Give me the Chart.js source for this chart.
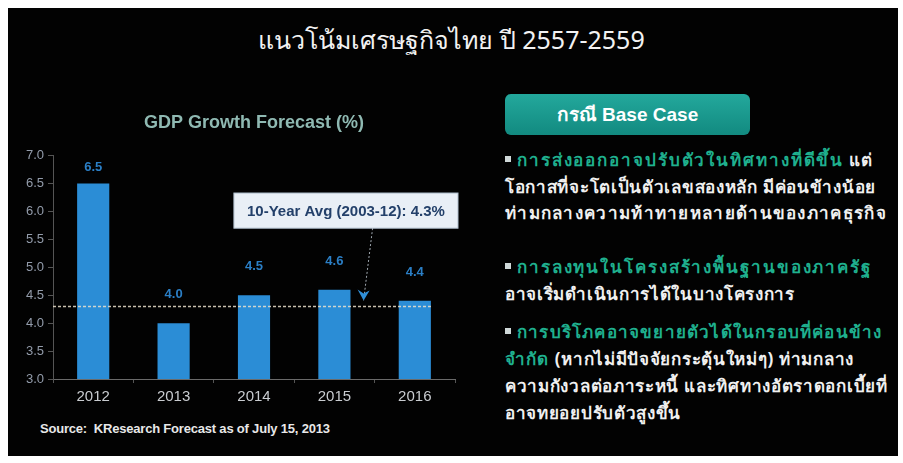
<!DOCTYPE html>
<html>
<head>
<meta charset="utf-8">
<script src="https://cdn.jsdelivr.net/npm/chart.js@4"></script>
<style>
  html, body { margin: 0; padding: 0; background: #fff; }
  body { width: 903px; height: 463px; position: relative; overflow: hidden; font-family: Arial, "Liberation Sans", sans-serif; }
  #panel { position: absolute; left: 8px; top: 8px; width: 890px; height: 448px; background: #020202; }
  #mainTitle { position: absolute; left: 0; top: 20px; width: 903px; text-align: center; color: #f2f2f2; font-size: 25px; font-family: "Liberation Sans Narrow", "Noto Sans", sans-serif; letter-spacing: 0px; }
  #chartBox { position: absolute; left: 8px; top: 100px; width: 460px; height: 313px; }
  #source { position: absolute; left: 40px; top: 421px; color: #e8e8e8; font-size: 13px; font-weight: bold; letter-spacing: -0.2px; }
  #caseBtn { position: absolute; left: 505px; top: 94px; width: 245px; height: 41px; border-radius: 6px; background: linear-gradient(#23a89c, #128a80); color: #fff; font-weight: bold; font-size: 19px; text-align: center; line-height: 41px; }
  .para { position: absolute; left: 505px; width: 395px; color: #f0f0f0; font-weight: bold; font-size: 17px; letter-spacing: 0.7px; line-height: 26.5px; font-family: "Noto Sans", "DejaVu Sans", sans-serif; white-space: nowrap; }
  .hl { color: #1fb08e; letter-spacing: 1.9px; }
  .wide { letter-spacing: 1.3px; }
  .sq { display: inline-block; width: 6px; height: 6px; background: #cfd8d8; margin-right: 6px; vertical-align: middle; position: relative; top: -2px; letter-spacing: 0; }
</style>
</head>
<body>
<div id="panel"></div>
<div id="mainTitle">แนวโน้มเศรษฐกิจไทย ปี 2557-2559</div>
<div id="chartBox"><canvas id="gdpChart"></canvas></div>
<div id="source">Source:&nbsp; KResearch Forecast as of July 15, 2013</div>
<div id="caseBtn">กรณี Base Case</div>
<div class="para" style="top:147px"><span class="sq"></span><span class="hl">การส่งออกอาจปรับตัวในทิศทางที่ดีขึ้น</span> แต่<br>โอกาสที่จะโตเป็นตัวเลขสองหลัก มีค่อนข้างน้อย<br><span class="wide">ท่ามกลางความท้าทายหลายด้านของภาคธุรกิจ</span></div>
<div class="para" style="top:254px"><span class="sq"></span><span class="hl">การลงทุนในโครงสร้างพื้นฐานของภาครัฐ</span><br>อาจเริ่มดำเนินการได้ในบางโครงการ</div>
<div class="para" style="top:318px; line-height:27px"><span class="sq"></span><span class="hl" style="letter-spacing:1.2px">การบริโภคอาจขยายตัวได้ในกรอบที่ค่อนข้าง<br>จำกัด</span> (หากไม่มีปัจจัยกระตุ้นใหม่ๆ) ท่ามกลาง<br>ความกังวลต่อภาระหนี้ และทิศทางอัตราดอกเบี้ยที่<br>อาจทยอยปรับตัวสูงขึ้น</div>

<script>
// Chart data
const years = ['2012', '2013', '2014', '2015', '2016'];
const gdpGrowth = [6.5, 4.0, 4.5, 4.6, 4.4];
const yTicks = [3.0, 3.5, 4.0, 4.5, 5.0, 5.5, 6.0, 6.5, 7.0];
const tenYearAvg = 4.3;
const avgLabel = '10-Year Avg (2003-12): 4.3%';

// value labels above the bars
const valueLabels = {
    id: 'valueLabels',
    afterDatasetsDraw(chart) {
        const ctx = chart.ctx;
        const meta = chart.getDatasetMeta(0);
        ctx.save();
        ctx.font = 'bold 13px Arial';
        ctx.fillStyle = '#2b7fc6';
        ctx.textAlign = 'center';
        ctx.textBaseline = 'bottom';
        meta.data.forEach((bar, i) => {
            const off = i === 0 ? 10 : 22;
            ctx.fillText(gdpGrowth[i].toFixed(1), bar.x, bar.y - off);
        });
        ctx.restore();
    }
};

// dashed average line + callout box
const avgLine = {
    id: 'avgLine',
    afterDatasetsDraw(chart) {
        const ctx = chart.ctx;
        const x = chart.scales.x, y = chart.scales.y;
        const meta = chart.getDatasetMeta(0);
        const last = meta.data[meta.data.length - 1];
        const ly = y.getPixelForValue(tenYearAvg);
        ctx.save();
        ctx.strokeStyle = 'rgba(235,225,205,0.85)';
        ctx.lineWidth = 1.5;
        ctx.setLineDash([3, 2]);
        ctx.beginPath();
        ctx.moveTo(chart.chartArea.left, ly);
        ctx.lineTo(last.x + last.width / 2, ly);
        ctx.stroke();

        // callout box
        const bx1 = x.getPixelForValue(1.75), bx2 = chart.chartArea.right + 3;
        const by1 = y.getPixelForValue(6.33), by2 = y.getPixelForValue(5.7);
        ctx.setLineDash([]);
        ctx.fillStyle = '#e9eff6';
        ctx.strokeStyle = '#aebdcc';
        ctx.lineWidth = 1;
        ctx.fillRect(bx1, by1, bx2 - bx1, by2 - by1);
        ctx.strokeRect(bx1, by1, bx2 - bx1, by2 - by1);
        ctx.font = 'bold 15px Arial';
        ctx.fillStyle = '#23406a';
        ctx.textAlign = 'center';
        ctx.textBaseline = 'middle';
        ctx.fillText(avgLabel, (bx1 + bx2) / 2, (by1 + by2) / 2 + 1);

        // arrow from box to line
        const tipX = (x.getPixelForValue(3) + x.getPixelForValue(4)) / 2 - 11;
        const tipY = ly - 6;
        const startX = tipX + 9;
        ctx.strokeStyle = 'rgba(200,210,220,0.8)';
        ctx.setLineDash([2, 2]);
        ctx.beginPath();
        ctx.moveTo(startX, by2);
        ctx.lineTo(tipX, tipY);
        ctx.stroke();
        ctx.setLineDash([]);
        ctx.fillStyle = '#2f8fd8';
        ctx.beginPath();
        ctx.moveTo(tipX, tipY);
        ctx.lineTo(tipX - 6, tipY - 11);
        ctx.lineTo(tipX, tipY - 7);
        ctx.lineTo(tipX + 6, tipY - 10);
        ctx.closePath();
        ctx.fill();
        ctx.restore();
    }
};

function createGdpChart() {
    const ctx = document.getElementById('gdpChart').getContext('2d');
    new Chart(ctx, {
        type: 'bar',
        data: {
            labels: years,
            datasets: [{
                data: gdpGrowth,
                backgroundColor: '#2b8dd6',
                barPercentage: 0.4,
                categoryPercentage: 1.0
            }]
        },
        options: {
            responsive: false,
            animation: false,
            layout: { padding: { left: 0, right: 13, top: 0, bottom: 2 } },
            plugins: {
                legend: { display: false },
                tooltip: { enabled: false },
                title: {
                    display: true,
                    fullSize: false,
                    text: 'GDP Growth Forecast (%)',
                    color: '#8fb9b2',
                    font: { family: 'Arial', size: 18, weight: 'bold' },
                    padding: { top: 12, bottom: 22 }
                }
            },
            scales: {
                x: {
                    grid: { display: true, drawOnChartArea: false, color: '#555', tickLength: 4, offset: true },
                    border: { color: '#6a6a6a' },
                    ticks: { color: '#c9ccd0', font: { family: 'Arial', size: 15 }, padding: 5 }
                },
                y: {
                    min: 3, max: 7,
                    afterBuildTicks: scale => { scale.ticks = yTicks.map(v => ({ value: v })); },
                    afterFit: scale => { scale.width = 45; },
                    grid: { display: true, drawOnChartArea: false, color: '#555', tickLength: 5 },
                    border: { color: '#555' },
                    ticks: {
                        color: '#939cab',
                        font: { family: 'Arial', size: 13 },
                        padding: 4,
                        callback: v => Number(v).toFixed(1)
                    }
                }
            }
        },
        plugins: [valueLabels, avgLine]
    });
}

window.onload = () => {
    const c = document.getElementById('gdpChart');
    c.width = 460; c.height = 313;
    createGdpChart();
};
</script>
</body>
</html>
